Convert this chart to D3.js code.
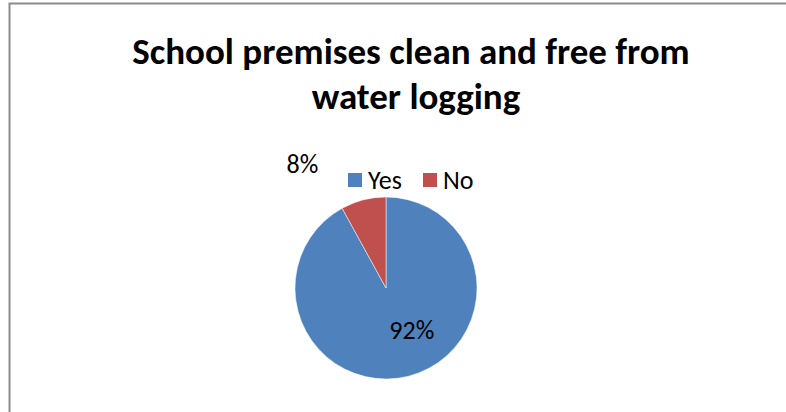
<!DOCTYPE html>
<html>
<head>
<meta charset="utf-8">
<script src="https://cdn.jsdelivr.net/npm/d3@7/dist/d3.min.js"></script>
<style>
  html, body { margin: 0; padding: 0; background: #fff; }
  svg { display: block; }
  text { font-family: Carlito, Calibri, Lato, "Open Sans", sans-serif; fill: #000; }
</style>
</head>
<body>
<svg id="chart" width="786" height="412"></svg>
<script>
// Survey answers and their shares (percent)
const categories = ["Yes", "No"];
const values = [92, 8];
const colors = ["#4F81BD", "#C0504D"];
const titleLines = ["School premises clean and free from", "water logging"];

const svg = d3.select("#chart");
const W = 786, H = 412;

// Chart frame (runs off the right and bottom edges)
svg.append("rect")
  .attr("x", 9.5).attr("y", 3.5)
  .attr("width", W + 20).attr("height", H + 20)
  .attr("fill", "#fff")
  .attr("stroke", "#8c8c8c")
  .attr("stroke-width", 2);

// Title (wrapped onto two centred lines)
const titleX = [411, 416];
const title = svg.append("text")
  .attr("text-anchor", "middle")
  .style("font-weight", "bold")
  .style("font-size", "37px");
titleLines.forEach((line, i) => {
  title.append("tspan")
    .attr("x", titleX[i])
    .attr("y", 64 + i * 45)
    .text(line);
});

// Pie
const cx = 386, cy = 288, r = 91;
const pie = d3.pie().sort(null).value(d => d.value);
const data = pie(categories.map((c, i) => ({ name: c, value: values[i], color: colors[i] })));
const arc = d3.arc().innerRadius(0).outerRadius(r);

const g = svg.append("g").attr("transform", `translate(${cx},${cy})`);
g.selectAll("path")
  .data(data)
  .join("path")
  .attr("d", arc)
  .attr("fill", d => d.data.color)
  .attr("stroke", "#fff")
  .attr("stroke-width", 0.5);

// Data labels: inside for the large slice, outside (moved clear of the legend) for the small one
const labelArcs = [
  { radius: r * 0.52, dx: 14, dy: -4 },
  { radius: r * 1.62, dx: -47, dy: 19 }
];
g.selectAll("text.lbl")
  .data(data)
  .join("text")
  .attr("class", "lbl")
  .attr("text-anchor", "middle")
  .attr("dominant-baseline", "central")
  .style("font-size", "26px")
  .attr("transform", (d, i) => {
    const la = labelArcs[i];
    const c = d3.arc().innerRadius(la.radius).outerRadius(la.radius).centroid(d);
    return `translate(${c[0] + la.dx},${c[1] + la.dy})`;
  })
  .text(d => Math.round(d.data.value) + "%");

// Legend
const legend = svg.append("g").attr("transform", "translate(348,173)");
const legendX = d3.scalePoint().domain(categories).range([0, 75]);
const item = legend.selectAll("g")
  .data(categories.map((c, i) => ({ name: c, color: colors[i] })))
  .join("g")
  .attr("transform", d => `translate(${legendX(d.name)},0)`);
item.append("rect")
  .attr("width", 14).attr("height", 14)
  .attr("fill", d => d.color);
item.append("text")
  .attr("x", 20).attr("y", 7)
  .attr("dominant-baseline", "central")
  .style("font-size", "26px")
  .text(d => d.name);
</script>
</body>
</html>
